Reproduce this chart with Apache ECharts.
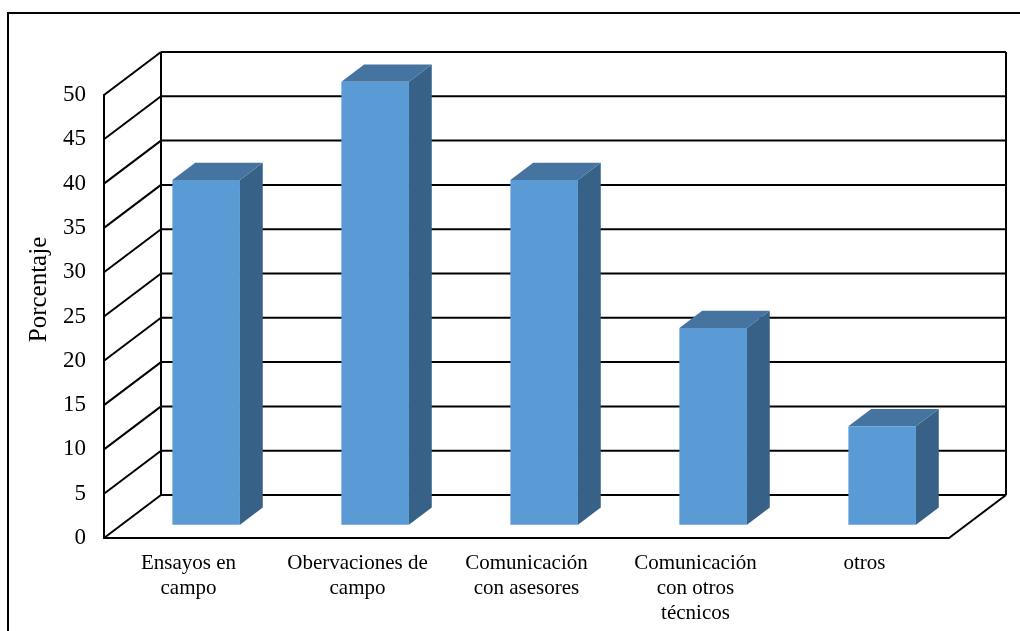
<!DOCTYPE html>
<html>
<head>
<meta charset="utf-8">
<script src="https://cdn.jsdelivr.net/npm/echarts@6/dist/echarts.min.js"></script>
<style>
  html, body { margin: 0; padding: 0; background: #fff; }
  #chart { width: 1020px; height: 631px; }
</style>
</head>
<body>
<div id="chart"></div>
<script>
// Categories and percentages
const categories = [
  'Ensayos en\ncampo',
  'Obervaciones de\ncampo',
  'Comunicación\ncon asesores',
  'Comunicación\ncon otros\ntécnicos',
  'otros'
];
const porcentajes = [38.9, 50, 38.9, 22.2, 11.1];
const yTicks = [0, 5, 10, 15, 20, 25, 30, 35, 40, 45, 50];

// Depth of the 3D box (pixel vector from the front plane to the back wall)
const DEPTH = [57, -43];
const BAR_FRONT = 0.31;   // bar front face position along the depth
const BAR_DEPTH = 0.40;   // bar thickness along the depth
const BAR_WIDTH = 0.40;   // bar width as a share of the category band

const FONT = '"Liberation Serif", "Times New Roman", serif';
const lineStyle = { stroke: '#000', lineWidth: 2 };

function line(x1, y1, x2, y2) {
  return { type: 'line', shape: { x1, y1, x2, y2 }, style: lineStyle };
}

// Walls and floor of the 3D box, one gridline per tick value
function renderFrame(params, api) {
  const cs = params.coordSys;
  const v = api.value(0);
  const y = api.coord([0, v])[1];
  const xl = cs.x, xr = cs.x + cs.width;
  const children = [
    line(xl, y, xl + DEPTH[0], y + DEPTH[1]),
    line(xl + DEPTH[0], y + DEPTH[1], xr + DEPTH[0], y + DEPTH[1])
  ];
  if (v === 0) {
    const yTop = api.coord([0, yTicks[yTicks.length - 1]])[1] + DEPTH[1];
    const yBot = y + DEPTH[1];
    children.push(line(xr, y, xr + DEPTH[0], y + DEPTH[1]));
    children.push(line(xl + DEPTH[0], yTop, xl + DEPTH[0], yBot));
    children.push(line(xr + DEPTH[0], yTop, xr + DEPTH[0], yBot));
  }
  return { type: 'group', children };
}

// 3D bar: front face, top face and right side face
function renderBar(params, api) {
  const i = api.value(0);
  const base = api.coord([i, 0]);
  const top = api.coord([i, api.value(1)]);
  const band = api.size([1, 0])[0];
  const w = band * BAR_WIDTH;
  const fx = DEPTH[0] * BAR_FRONT, fy = DEPTH[1] * BAR_FRONT;
  const tx = DEPTH[0] * BAR_DEPTH, ty = DEPTH[1] * BAR_DEPTH;
  const x0 = base[0] - w / 2 + fx, x1 = x0 + w;
  const yt = top[1] + fy, yb = base[1] + fy;
  return {
    type: 'group',
    children: [
      { type: 'polygon', shape: { points: [[x1, yt], [x1 + tx, yt + ty], [x1 + tx, yb + ty], [x1, yb]] },
        style: { fill: '#386187' } },
      { type: 'polygon', shape: { points: [[x0, yt], [x1, yt], [x1 + tx, yt + ty], [x0 + tx, yt + ty]] },
        style: { fill: '#4574a1' } },
      { type: 'rect', shape: { x: x0, y: yt, width: w, height: yb - yt },
        style: { fill: '#5b9bd5' } }
    ]
  };
}

const chart = echarts.init(document.getElementById('chart'), null, { renderer: 'canvas' });
chart.setOption({
  backgroundColor: '#fff',
  animation: false,
  graphic: [{
    type: 'rect',
    shape: { x: 8, y: 13, width: 1040, height: 700 },
    style: { fill: 'none', stroke: '#000', lineWidth: 2 },
    silent: true
  }],
  grid: { left: 104, right: 71, top: 95, bottom: 93 },
  xAxis: {
    type: 'category',
    data: categories,
    boundaryGap: true,
    axisLine: { lineStyle: { color: '#000', width: 2 } },
    axisTick: { show: false },
    axisLabel: {
      interval: 0, color: '#000', fontFamily: FONT, fontSize: 21,
      lineHeight: 25, margin: 13, align: 'center'
    },
    splitLine: { show: false }
  },
  yAxis: {
    type: 'value',
    min: 0, max: 50, interval: 5,
    name: 'Porcentaje',
    nameLocation: 'middle',
    nameGap: 50,
    nameTextStyle: { color: '#000', fontFamily: FONT, fontSize: 25, padding: [0, 0, 0, 54] },
    axisLine: { show: true, lineStyle: { color: '#000', width: 2 } },
    axisTick: { show: false },
    axisLabel: { color: '#000', fontFamily: FONT, fontSize: 23, margin: 18 },
    splitLine: { show: false }
  },
  series: [
    {
      type: 'custom',
      name: 'frame',
      clip: false,
      silent: true,
      z: 1,
      renderItem: renderFrame,
      encode: { y: 0 },
      data: yTicks.map(v => [v])
    },
    {
      type: 'custom',
      name: 'Porcentaje',
      clip: false,
      z: 2,
      renderItem: renderBar,
      encode: { x: 0, y: 1 },
      data: porcentajes.map((v, i) => [i, v])
    }
  ]
});
</script>
</body>
</html>
